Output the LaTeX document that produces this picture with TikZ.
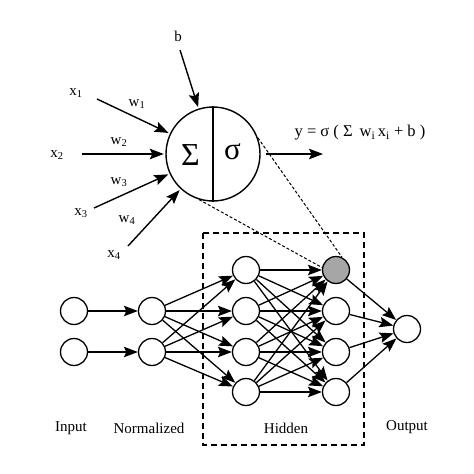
\documentclass[tikz,border=0pt]{standalone}
\usepackage{fontspec}
\setmainfont{Liberation Serif}
\usetikzlibrary{arrows.meta}
\begin{document}
\begin{tikzpicture}[x=1pt,y=-1pt,
  neuron/.style={circle,draw,line width=1.3pt,minimum size=27pt,inner sep=0pt,fill=white},
  arr/.style={line width=1.3pt,-{Stealth[length=14pt,width=10.5pt,inset=2.5pt]}},
  bigarr/.style={line width=1.4pt,-{Stealth[length=14pt,width=10.5pt,inset=2.5pt]}},
  lbl/.style={font=\fontsize{15}{17}\selectfont,inner sep=1pt},
  dsh/.style={line width=1pt,dash pattern=on 3pt off 2pt}]
\useasboundingbox (0,0) rectangle (474,474);
% big neuron
\node[circle,draw,line width=1.4pt,minimum size=94pt,inner sep=0pt] (N) at (213,154) {};
\draw[line width=1.4pt] (N.north) -- (N.south);
\node[font=\fontsize{32}{34}\selectfont,inner sep=0pt] (sig) at (190.5,155) {Σ};
\node[font=\fontsize{31}{33}\selectfont,inner sep=0pt] (sgm) at (232.5,152) {σ};
% inputs
\node[lbl] (x1) at (76,93) {x\textsubscript{1}};
\node[lbl] (x2) at (57,155) {x\textsubscript{2}};
\node[lbl] (x3) at (81,213) {x\textsubscript{3}};
\node[lbl] (x4) at (114,255) {x\textsubscript{4}};
\node[lbl] (w1) at (137,104) {w\textsubscript{1}};
\node[lbl] (w2) at (119,142) {w\textsubscript{2}};
\node[lbl] (w3) at (119,182) {w\textsubscript{3}};
\node[lbl] (w4) at (127,220) {w\textsubscript{4}};
\node[lbl] (b) at (178,36) {b};
\coordinate (s1) at (97,99);
\coordinate (s2) at (82,154);
\coordinate (s3) at (94,208);
\coordinate (s4) at (128,246);
\coordinate (sb) at (180,50);
\foreach \s in {s1,s2,s3,s4,sb} \draw[bigarr,shorten >=1.5pt] (\s) -- (N);
% output
\coordinate (yo) at (323,154);
\draw[bigarr] ([xshift=5pt]N.east) -- (yo);
\node[font=\fontsize{16.5}{18}\selectfont,inner sep=1pt] (eq) at (360,133) {y = σ ( Σ\, w\textsubscript{i}\,x\textsubscript{i} + b )};
% network
\node[neuron] (in1) at (74,311) {};
\node[neuron] (in2) at (74,352) {};
\node[neuron] (nm1) at (152,311) {};
\node[neuron] (nm2) at (152,352) {};
\foreach \j/\y in {1/270,2/311,3/352,4/392} {
  \node[neuron] (ha\j) at (246,\y) {};
}
\node[neuron,fill=gray!70] (hb1) at (336,270) {};
\foreach \j/\y in {2/311,3/352,4/392} {
  \node[neuron] (hb\j) at (336,\y) {};
}
\node[neuron] (out) at (407,329) {};
\foreach \i in {1,2} \draw[arr] (in\i) -- (nm\i);
\foreach \i in {1,2} \foreach \j in {1,...,4} \draw[arr] (nm\i) -- (ha\j);
\foreach \i in {1,...,4} \foreach \j in {1,...,4} \draw[arr] (ha\i) -- (hb\j);
\foreach \j in {1,...,4} \draw[arr] (hb\j) -- (out);
% dashed zoom lines
\draw[dsh] (N.20) -- (hb1.65);
\draw[dsh] (N.-107) -- (hb1.170);
% hidden box
\draw[line width=1.3pt,dash pattern=on 6pt off 4pt] (203,233) rectangle (364,445);
% labels
\node[lbl] (lin) at (71,428) {Input};
\node[lbl] (lnm) at (149,428) {Normalized};
\node[lbl] (lhd) at (286,428) {Hidden};
\node[lbl] (lout) at (407,427) {Output};
\end{tikzpicture}
\end{document}
